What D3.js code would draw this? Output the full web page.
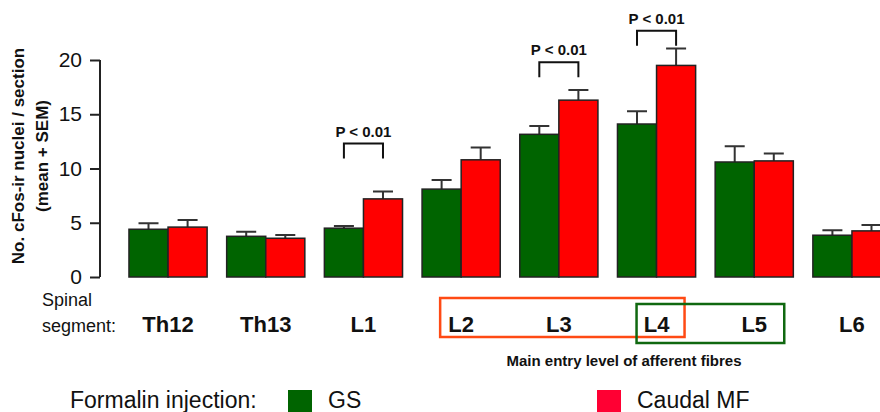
<!DOCTYPE html>
<html>
<head>
<meta charset="utf-8">
<script src="https://cdn.jsdelivr.net/npm/d3@7"></script>
<style>
  body { margin: 0; background: #fff; }
  svg { display: block; font-family: "Liberation Sans", Arial, sans-serif; }
</style>
</head>
<body>
<svg id="chart" width="880" height="412"></svg>
<script>
// data
var segments = ["Th12", "Th13", "L1", "L2", "L3", "L4", "L5", "L6"]
var gsMean = [4.4, 3.75, 4.5, 8.1, 13.15, 14.1, 10.6, 3.85]
var gsSem  = [0.55, 0.43, 0.2, 0.83, 0.77, 1.17, 1.44, 0.45]
var mfMean = [4.6, 3.57, 7.2, 10.8, 16.3, 19.5, 10.7, 4.25]
var mfSem  = [0.65, 0.3, 0.67, 1.14, 0.93, 1.56, 0.68, 0.55]
var yTicks = [0, 5, 10, 15, 20]
var sigSegments = ["L1", "L3", "L4"]
var sigLevel = [12.3, 19.8, 22.7]
var sigText = "P < 0.01"
var groups = ["GS", "Caudal MF"]
var colors = ["#006400", "#ff0000"]

var svg = d3.select("#chart")

var y = d3.scaleLinear().domain([0, 20]).range([277, 60])
var x = d3.scaleBand().domain(segments).range([119.2, 900.8]).paddingInner(0.2).paddingOuter(0.1)
var xs = d3.scaleBand().domain(groups).range([0, x.bandwidth()])

// y axis
var yAxis = d3.axisLeft(y).tickValues(yTicks).tickSize(10).tickPadding(8)
var ga = svg.append("g").attr("transform", "translate(100,0)").call(yAxis)
ga.select(".domain").attr("stroke", "#222").attr("stroke-width", 2).attr("d", "M0," + y(20) + "V" + y(0))
ga.selectAll(".tick line").attr("stroke", "#222").attr("stroke-width", 2)
ga.selectAll(".tick text").attr("font-size", 21).attr("fill", "#111").attr("font-family", "Liberation Sans, Arial, sans-serif")

// y title
var yt = svg.append("text").attr("transform", "translate(24,156) rotate(-90)")
  .attr("text-anchor", "middle").attr("font-weight", "bold").attr("font-size", 17).attr("fill", "#111")
yt.append("tspan").attr("x", 0).attr("dy", 0).text("No. cFos-ir nuclei / section")
yt.append("tspan").attr("x", 0).attr("dy", 24).text("(mean + SEM)")

// bars
var rows = segments.map(function(s, i) {
  return [{seg: s, g: groups[0], m: gsMean[i], e: gsSem[i]}, {seg: s, g: groups[1], m: mfMean[i], e: mfSem[i]}]
})
var gg = svg.selectAll(".grp").data(rows).enter().append("g")
  .attr("transform", function(d) { return "translate(" + x(d[0].seg) + ",0)" })

// error bars first, bars on top
gg.selectAll(".err").data(function(d) { return d }).enter().append("path")
  .attr("stroke", "#333").attr("stroke-width", 2).attr("fill", "none")
  .attr("d", function(d) {
    var cx = xs(d.g) + xs.bandwidth() / 2
    return "M" + cx + "," + y(d.m) + "V" + y(d.m + d.e) + "M" + (cx - 10) + "," + y(d.m + d.e) + "H" + (cx + 10)
  })

gg.selectAll("rect").data(function(d) { return d }).enter().append("rect")
  .attr("x", function(d) { return xs(d.g) })
  .attr("y", function(d) { return y(d.m) })
  .attr("width", xs.bandwidth())
  .attr("height", function(d) { return y(0) - y(d.m) })
  .attr("fill", function(d) { return colors[groups.indexOf(d.g)] })
  .attr("stroke", "#222").attr("stroke-width", 1.5)

// significance brackets
sigSegments.forEach(function(s, i) {
  var x1 = x(s) + xs(groups[0]) + xs.bandwidth() / 2
  var x2 = x(s) + xs(groups[1]) + xs.bandwidth() / 2
  var yb = y(sigLevel[i])
  svg.append("path").attr("fill", "none").attr("stroke", "#111").attr("stroke-width", 2)
    .attr("d", "M" + x1 + "," + (yb + 15) + "V" + yb + "H" + x2 + "V" + (yb + 15))
  svg.append("text").attr("x", (x1 + x2) / 2).attr("y", yb - 7).attr("text-anchor", "middle")
    .attr("font-weight", "bold").attr("font-size", 15).attr("fill", "#111").text(sigText)
})

// segment labels
svg.append("text").attr("x", 42).attr("y", 306).attr("font-size", 18).attr("fill", "#111").text("Spinal")
svg.append("text").attr("x", 42).attr("y", 332).attr("font-size", 18).attr("fill", "#111").text("segment:")
svg.selectAll(".seglab").data(segments).enter().append("text")
  .attr("x", function(d) { return x(d) + x.bandwidth() / 2 }).attr("y", 332)
  .attr("text-anchor", "middle").attr("font-weight", "bold").attr("font-size", 22).attr("fill", "#111")
  .text(function(d) { return d })

// entry-level boxes
var cx = function(s) { return x(s) + x.bandwidth() / 2 }
svg.append("rect").attr("x", cx("L2") - 21).attr("y", 298).attr("width", cx("L4") + 28 - (cx("L2") - 21)).attr("height", 39)
  .attr("fill", "none").attr("stroke", "#ff4a14").attr("stroke-width", 2.5)
svg.append("rect").attr("x", cx("L4") - 20).attr("y", 304).attr("width", cx("L5") + 30 - (cx("L4") - 20)).attr("height", 39)
  .attr("fill", "none").attr("stroke", "#106810").attr("stroke-width", 2.5)
svg.append("text").attr("x", 624).attr("y", 366).attr("text-anchor", "middle")
  .attr("font-weight", "bold").attr("font-size", 15).attr("fill", "#111").text("Main entry level of afferent fibres")

// legend
svg.append("text").attr("x", 70).attr("y", 408).attr("font-size", 23).attr("fill", "#111").text("Formalin injection:")
var legX = [288, 597]
groups.forEach(function(g, i) {
  svg.append("rect").attr("x", legX[i]).attr("y", 390).attr("width", 24).attr("height", 24)
    .attr("fill", i == 0 ? colors[0] : "#ff0033")
  svg.append("text").attr("x", legX[i] + 40).attr("y", 408).attr("font-size", 23).attr("fill", "#111").text(g)
})
</script>
</body>
</html>
